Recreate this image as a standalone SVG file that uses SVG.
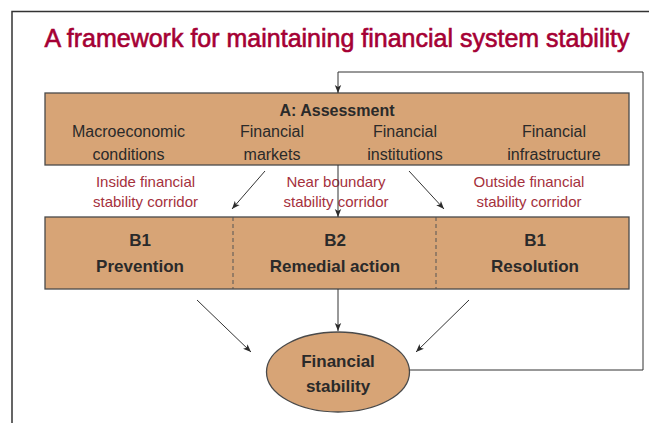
<svg xmlns="http://www.w3.org/2000/svg" width="649" height="423" viewBox="0 0 649 423">
<defs>
<marker id="arr" viewBox="0 0 10 10" refX="10" refY="5" markerWidth="8" markerHeight="8" markerUnits="userSpaceOnUse" orient="auto">
<path d="M0,1 L10,5 L0,9 L2.5,5 Z" fill="#2b2b2b"/>
</marker>
</defs>
<style>
.box{fill:#D7A476;stroke:#4a4a4a;stroke-width:1.3}
.t{font-family:"Liberation Sans",Arial,sans-serif;fill:#2a2a2a;text-anchor:middle}
.n{font-size:16px}
.b{font-size:17px;font-weight:bold}
.r{font-family:"Liberation Sans",Arial,sans-serif;fill:#A5313D;font-size:15px;text-anchor:middle}
.ln{stroke:#333;stroke-width:1;fill:none}
.dash{stroke:#555;stroke-width:1;stroke-dasharray:4,3}
</style>
<rect width="649" height="423" fill="#ffffff"/>
<g id="frame">
<path d="M12,423 L12,11.5 L649,11.5" fill="none" stroke="#333" stroke-width="1.5"/>
</g>
<text id="title" x="337" y="47" font-family="'Liberation Sans',Arial,sans-serif" font-size="25" fill="#A50034" stroke="#A50034" stroke-width="0.6" text-anchor="middle">A framework for maintaining financial system stability</text>
<g id="assessment">
<rect class="box" x="45" y="93" width="584" height="72"/>
<text class="t n" x="337" y="116" font-weight="bold">A: Assessment</text>
<text class="t n" x="128.5" y="137">Macroeconomic</text>
<text class="t n" x="128.5" y="160">conditions</text>
<text class="t n" x="272" y="137">Financial</text>
<text class="t n" x="272" y="160">markets</text>
<text class="t n" x="405" y="137">Financial</text>
<text class="t n" x="405" y="160">institutions</text>
<text class="t n" x="554" y="137">Financial</text>
<text class="t n" x="554" y="160">infrastructure</text>
</g>
<g id="corridor-labels">
<text class="r" x="145.5" y="187">Inside financial</text>
<text class="r" x="145.5" y="207">stability corridor</text>
<text class="r" x="336" y="187">Near boundary</text>
<text class="r" x="336" y="207">stability corridor</text>
<text class="r" x="529" y="187">Outside financial</text>
<text class="r" x="529" y="207">stability corridor</text>
</g>
<g id="actions">
<rect class="box" x="45" y="217" width="584" height="72"/>
<line class="dash" x1="233" y1="217" x2="233" y2="289"/>
<line class="dash" x1="436" y1="217" x2="436" y2="289"/>
<text class="t b" x="140" y="246">B1</text>
<text class="t b" x="140" y="272">Prevention</text>
<text class="t b" x="335" y="246">B2</text>
<text class="t b" x="335" y="272">Remedial action</text>
<text class="t b" x="535" y="246">B1</text>
<text class="t b" x="535" y="272">Resolution</text>
</g>
<g id="stability">
<ellipse class="box" cx="338" cy="372" rx="71.5" ry="40"/>
<text class="t b" x="338" y="367">Financial</text>
<text class="t b" x="338" y="392">stability</text>
</g>
<g id="connectors">
<line class="ln" x1="265" y1="171" x2="232" y2="209" marker-end="url(#arr)"/>
<line class="ln" x1="409" y1="171" x2="444" y2="209" marker-end="url(#arr)"/>
<line class="ln" x1="338" y1="165" x2="338" y2="217" marker-end="url(#arr)"/>
<line class="ln" x1="197" y1="300" x2="251" y2="352" marker-end="url(#arr)"/>
<line class="ln" x1="338" y1="289" x2="338" y2="331" marker-end="url(#arr)"/>
<line class="ln" x1="469" y1="300" x2="416" y2="352" marker-end="url(#arr)"/>
<path class="ln" d="M409.5,370 L643,370 L643,72 L338,72 L338,93" marker-end="url(#arr)"/>
</g>
</svg>
